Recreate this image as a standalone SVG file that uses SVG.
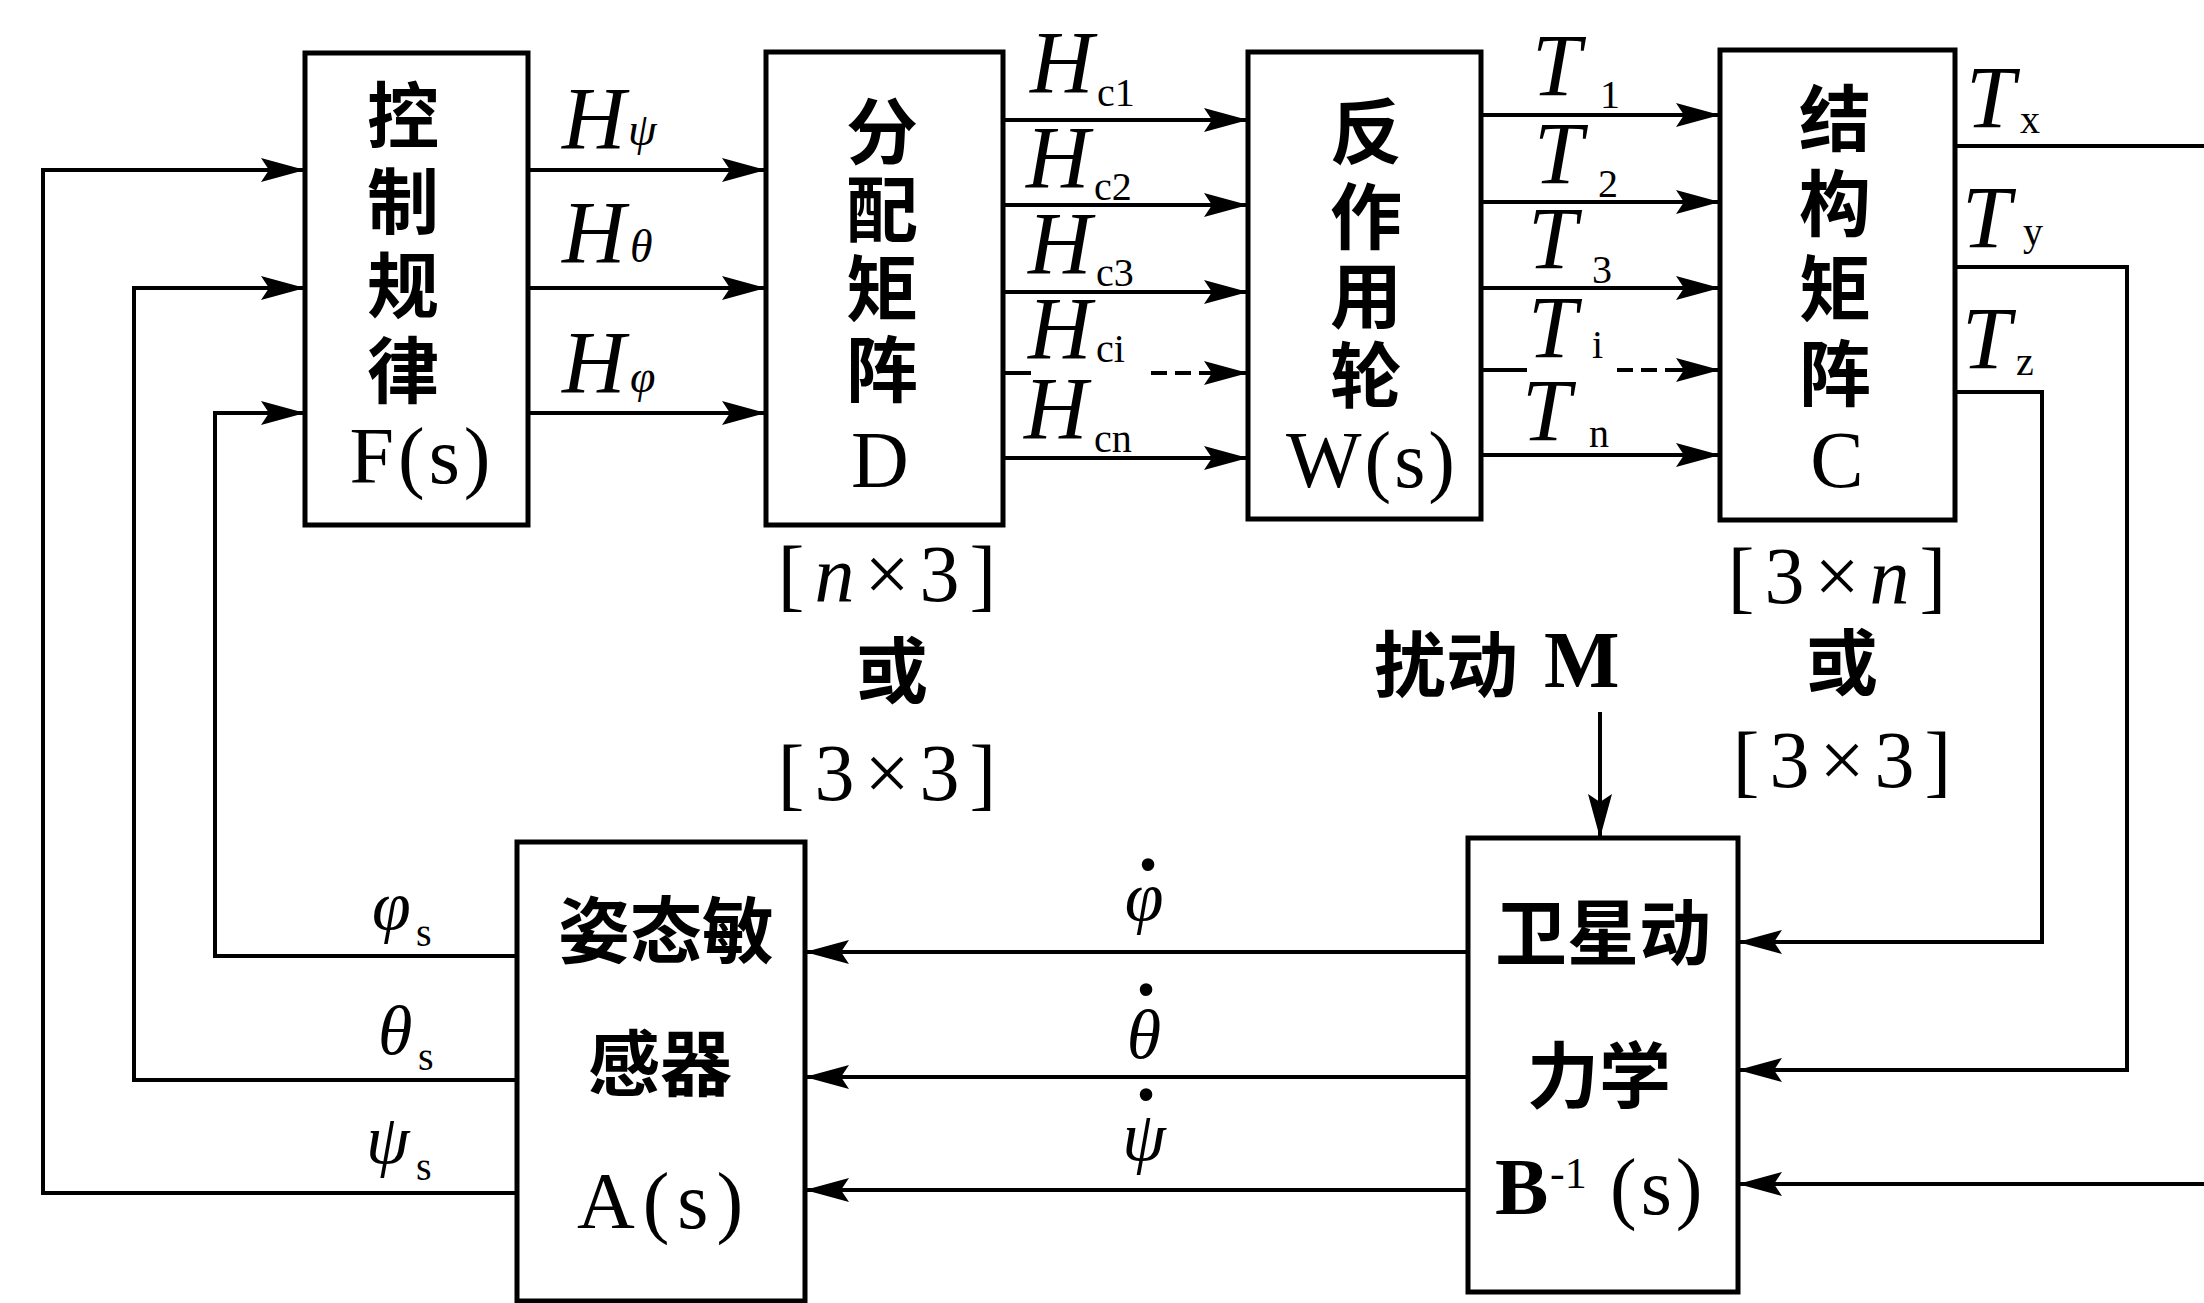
<svg xmlns="http://www.w3.org/2000/svg" width="2204" height="1303" viewBox="0 0 2204 1303">
<style>
.box{fill:#fff;stroke:#000;stroke-width:5}
.ln{fill:none;stroke:#000;stroke-width:4}
.cjk{font-family:"Noto Sans CJK SC",sans-serif;font-weight:700;font-size:72px;text-anchor:middle;fill:#000}
.lat{font-family:"Liberation Serif",serif;font-weight:400;font-size:80px;fill:#000}
.it{font-family:"Liberation Serif",serif;font-style:italic;font-size:88px;fill:#000}
.sub{font-family:"Liberation Serif",serif;font-style:normal;font-size:40px}
.gsub{font-family:"Liberation Serif",serif;font-style:italic;font-size:46px}
.gr{font-family:"Liberation Serif",serif;font-style:italic;font-size:70px;fill:#000}
.s{font-family:"Liberation Serif",serif;font-style:normal;font-size:40px}
.dot{font-family:"Liberation Serif",serif;font-style:normal;font-weight:700;font-size:84px}
</style>
<defs>
<marker id="ah" markerUnits="userSpaceOnUse" markerWidth="44" markerHeight="26" refX="44" refY="13" orient="auto">
<path d="M0,1 L44,13 L0,25 L8,13 Z" fill="#000"/>
</marker>
</defs>
<rect width="2204" height="1303" fill="#fff"/>

<g id="connectors">
<path class="ln" d="M528,170 H766" marker-end="url(#ah)"/>
<path class="ln" d="M528,288 H766" marker-end="url(#ah)"/>
<path class="ln" d="M528,413 H766" marker-end="url(#ah)"/>
<path class="ln" d="M1003,120 H1248" marker-end="url(#ah)"/>
<path class="ln" d="M1003,205 H1248" marker-end="url(#ah)"/>
<path class="ln" d="M1003,292 H1248" marker-end="url(#ah)"/>
<path class="ln" d="M1003,373 H1248" stroke-dasharray="28 120 16 8 16 8 80" marker-end="url(#ah)"/>
<path class="ln" d="M1003,458 H1248" marker-end="url(#ah)"/>
<path class="ln" d="M1481,115 H1720" marker-end="url(#ah)"/>
<path class="ln" d="M1481,202 H1720" marker-end="url(#ah)"/>
<path class="ln" d="M1481,288 H1720" marker-end="url(#ah)"/>
<path class="ln" d="M1481,370 H1720" stroke-dasharray="46 90 16 8 16 8 80" marker-end="url(#ah)"/>
<path class="ln" d="M1481,455 H1720" marker-end="url(#ah)"/>
<path class="ln" d="M1955,146 H2204"/>
<path class="ln" d="M1955,267 H2127 V1070 H1738" marker-end="url(#ah)"/>
<path class="ln" d="M1955,392 H2042 V942 H1738" marker-end="url(#ah)"/>
<path class="ln" d="M2204,1184 H1738" marker-end="url(#ah)"/>
<path class="ln" d="M1600,712 V838" marker-end="url(#ah)"/>
<path class="ln" d="M1468,952 H805" marker-end="url(#ah)"/>
<path class="ln" d="M1468,1077 H805" marker-end="url(#ah)"/>
<path class="ln" d="M1468,1190 H805" marker-end="url(#ah)"/>
<path class="ln" d="M517,956 H215 V413 H305" marker-end="url(#ah)"/>
<path class="ln" d="M517,1080 H134 V288 H305" marker-end="url(#ah)"/>
<path class="ln" d="M517,1193 H43 V170 H305" marker-end="url(#ah)"/>
</g>

<g id="node-F">
<rect class="box" x="305" y="53" width="223" height="472"/>
<text class="cjk"><tspan x="403" y="142">控</tspan><tspan x="403" y="228">制</tspan><tspan x="403" y="312">规</tspan><tspan x="403" y="397">律</tspan><tspan class="lat" x="422" y="483" letter-spacing="4">F(s)</tspan></text>
</g>

<g id="node-D">
<rect class="box" x="766" y="52" width="237" height="473"/>
<text class="cjk"><tspan x="882" y="158">分</tspan><tspan x="882" y="236">配</tspan><tspan x="882" y="315">矩</tspan><tspan x="882" y="396">阵</tspan><tspan class="lat" x="880" y="487" font-size="86">D</tspan></text>
</g>

<g id="node-W">
<rect class="box" x="1248" y="52" width="233" height="467"/>
<text class="cjk"><tspan x="1366" y="158">反</tspan><tspan x="1366" y="243">作</tspan><tspan x="1366" y="322">用</tspan><tspan x="1366" y="402">轮</tspan><tspan class="lat" x="1372" y="487" letter-spacing="3">W(s)</tspan></text>
</g>

<g id="node-C">
<rect class="box" x="1720" y="50" width="235" height="470"/>
<text class="cjk"><tspan x="1835" y="145">结</tspan><tspan x="1835" y="230">构</tspan><tspan x="1835" y="315">矩</tspan><tspan x="1835" y="400">阵</tspan><tspan class="lat" x="1837" y="487" font-size="86">C</tspan></text>
</g>

<g id="node-A">
<rect class="box" x="517" y="842" width="288" height="459"/>
<text class="cjk"><tspan x="666" y="957">姿态敏</tspan><tspan x="660" y="1090">感器</tspan><tspan class="lat" x="664" y="1228" letter-spacing="8">A(s)</tspan></text>
</g>

<g id="node-B">
<rect class="box" x="1468" y="838" width="270" height="454"/>
<text class="cjk"><tspan x="1603" y="959">卫星动</tspan><tspan x="1599" y="1102">力学</tspan></text>
<text class="lat" x="1495" y="1214"><tspan style="font-weight:700">B</tspan><tspan x="1550" y="1188" font-size="44">-1</tspan><tspan x="1610" y="1214" letter-spacing="4">(s)</tspan></text>
</g>

<g id="labels">
<text class="it" x="562" y="148">H<tspan class="gsub" x="628" y="145">ψ</tspan></text>
<text class="it" x="562" y="262">H<tspan class="gsub" x="630" y="262">θ</tspan></text>
<text class="it" x="562" y="392">H<tspan class="gsub" x="630" y="392">φ</tspan></text>

<text class="it" x="1030" y="92">H<tspan class="sub" x="1097" y="106">c1</tspan></text>
<text class="it" x="1026" y="187">H<tspan class="sub" x="1094" y="200">c2</tspan></text>
<text class="it" x="1028" y="273">H<tspan class="sub" x="1096" y="286">c3</tspan></text>
<text class="it" x="1028" y="358">H<tspan class="sub" x="1096" y="362">ci</tspan></text>
<text class="it" x="1024" y="438">H<tspan class="sub" x="1094" y="452">cn</tspan></text>

<text class="it" x="1532" y="95">T<tspan class="sub" x="1600" y="108">1</tspan></text>
<text class="it" x="1534" y="183">T<tspan class="sub" x="1598" y="197">2</tspan></text>
<text class="it" x="1528" y="268">T<tspan class="sub" x="1592" y="283">3</tspan></text>
<text class="it" x="1528" y="357">T<tspan class="sub" x="1592" y="358">i</tspan></text>
<text class="it" x="1522" y="440">T<tspan class="sub" x="1589" y="447">n</tspan></text>

<text class="it" x="1966" y="127">T<tspan class="sub" x="2020" y="133">x</tspan></text>
<text class="it" x="1962" y="247">T<tspan class="sub" x="2023" y="245">y</tspan></text>
<text class="it" x="1962" y="368">T<tspan class="sub" x="2016" y="375">z</tspan></text>

<text class="gr" x="372" y="929">φ<tspan class="s" x="416" y="946">s</tspan></text>
<text class="gr" x="378" y="1054">θ<tspan class="s" x="418" y="1070">s</tspan></text>
<text class="gr" x="366" y="1163">ψ<tspan class="s" x="416" y="1180">s</tspan></text>

<text class="gr" x="1144" y="920" text-anchor="middle">φ<tspan class="dot" x="1148" y="917">˙</tspan></text>
<text class="gr" x="1144" y="1058" text-anchor="middle">θ<tspan class="dot" x="1146" y="1042">˙</tspan></text>
<text class="gr" x="1144" y="1160" text-anchor="middle">ψ<tspan class="dot" x="1146" y="1147">˙</tspan></text>

<text class="lat" x="892" y="601" text-anchor="middle" font-size="74" letter-spacing="10">[<tspan font-style="italic">n</tspan>×3]</text>
<text class="cjk" x="892" y="697">或</text>
<text class="lat" x="892" y="800" text-anchor="middle" font-size="74" letter-spacing="10">[3×3]</text>

<text class="lat" x="1842" y="603" text-anchor="middle" font-size="74" letter-spacing="10">[3×<tspan font-style="italic">n</tspan>]</text>
<text class="cjk" x="1842" y="689">或</text>
<text class="lat" x="1847" y="787" text-anchor="middle" font-size="74" letter-spacing="10">[3×3]</text>

<text class="cjk" x="1374" y="691" style="text-anchor:start">扰动<tspan class="lat" style="font-weight:700" font-size="80" x="1544" y="687">M</tspan></text>
</g>
</svg>
